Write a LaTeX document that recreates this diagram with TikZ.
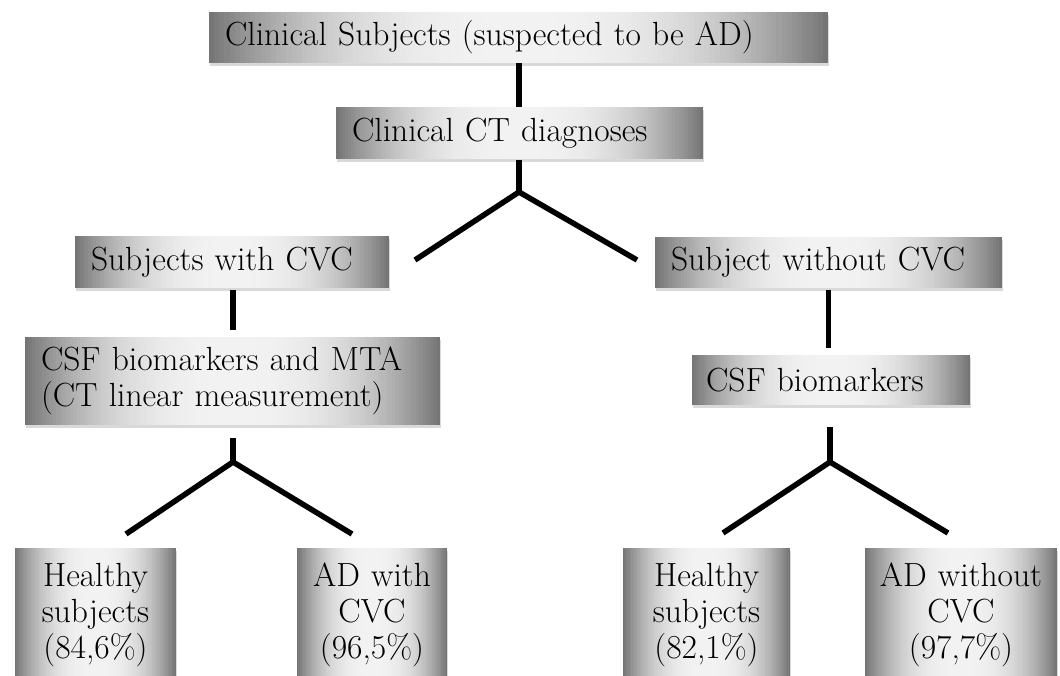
\documentclass[tikz,border=0pt]{standalone}
\usetikzlibrary{shadows,calc}
\begin{document}
\begin{tikzpicture}[x=1pt,y=-1pt,
  gradfill/.style={path picture={
    \foreach \i in {0,...,119}{
      \pgfmathsetmacro\u{abs(2*(\i+0.5)/120-1)}
      \pgfmathsetmacro\sh{5+50*\u*\u*sqrt(\u)}
      \pgfmathsetmacro\fa{\i/120}
      \pgfmathsetmacro\fb{min(1,(\i+1.6)/120)}
      \fill[black!\sh] ($(path picture bounding box.north west)!\fa!(path picture bounding box.north east)$)
        rectangle ($(path picture bounding box.south west)!\fb!(path picture bounding box.south east)$);
    }}},
  box/.style={fill=black!30,gradfill,
    drop shadow={opacity=0.3,shadow xshift=1pt,shadow yshift=-2.5pt},
    inner xsep=16pt,inner ysep=0pt,align=left,font=\fontsize{33.5}{36}\selectfont},
  leaf/.style={box,align=center,inner xsep=0pt},
  link/.style={line width=5.5pt}]
\useasboundingbox (0,0) rectangle (1060,675);
\clip (0,0) rectangle (1060,675);
\node[box,text width=587pt,minimum height=51pt] (b1) at (518.5,37.5) {Clinical Subjects (suspected to be AD)};
\node[box,text width=335pt,minimum height=52pt] (b2) at (519.5,133) {Clinical CT diagnoses};
\node[box,text width=282pt,minimum height=52pt] (b3) at (232,262) {Subjects with CVC};
\node[box,text width=315pt,minimum height=51pt] (b4) at (828.5,262.5) {Subject without CVC};
\node[box,text width=383pt,minimum height=88pt] (b5) at (232.5,381) {CSF biomarkers and MTA\\(CT linear measurement)};
\node[box,text width=250pt,inner xsep=14pt,minimum height=50pt] (b8) at (831,380) {CSF biomarkers};
\node[leaf,text width=161pt,minimum height=134pt] (b6) at (95.5,615) {Healthy\\subjects\\(84,6\%)};
\node[leaf,text width=150pt,minimum height=134pt] (b7) at (372,615) {AD with\\CVC\\(96,5\%)};
\node[leaf,text width=167pt,minimum height=134pt] (b9) at (706.5,615) {Healthy\\subjects\\(82,1\%)};
\node[leaf,text width=192pt,minimum height=134pt] (b10) at (961,615) {AD without\\CVC\\(97,7\%)};
\coordinate (j1) at (519,192);
\coordinate (l1) at (415,260);
\coordinate (r1) at (637,260);
\coordinate (j2) at (233,462);
\coordinate (l2) at (126,534);
\coordinate (r2) at (352,534);
\coordinate (j3) at (830,462);
\coordinate (l3) at (723,533);
\coordinate (r3) at (948,533);
\draw[link] (b1.south -| j1) -- (b2.north -| j1);
\draw[link,shorten <=1pt] (b2.south -| j1) -- (j1);
\draw[link] (l1) -- (j1) -- (r1);
\draw[link,shorten <=2pt,shorten >=7pt] (b3.south -| j2) -- (b5.north -| j2);
\draw[link,shorten <=13pt] (b5.south -| j2) -- (j2);
\draw[link] (l2) -- (j2) -- (r2);
\draw[link,shorten <=2pt,shorten >=7pt] (b4.south) -- (b4.south |- b8.north);
\draw[link,shorten <=22pt] (b8.south -| j3) -- (j3);
\draw[link] (l3) -- (j3) -- (r3);
\end{tikzpicture}
\end{document}
